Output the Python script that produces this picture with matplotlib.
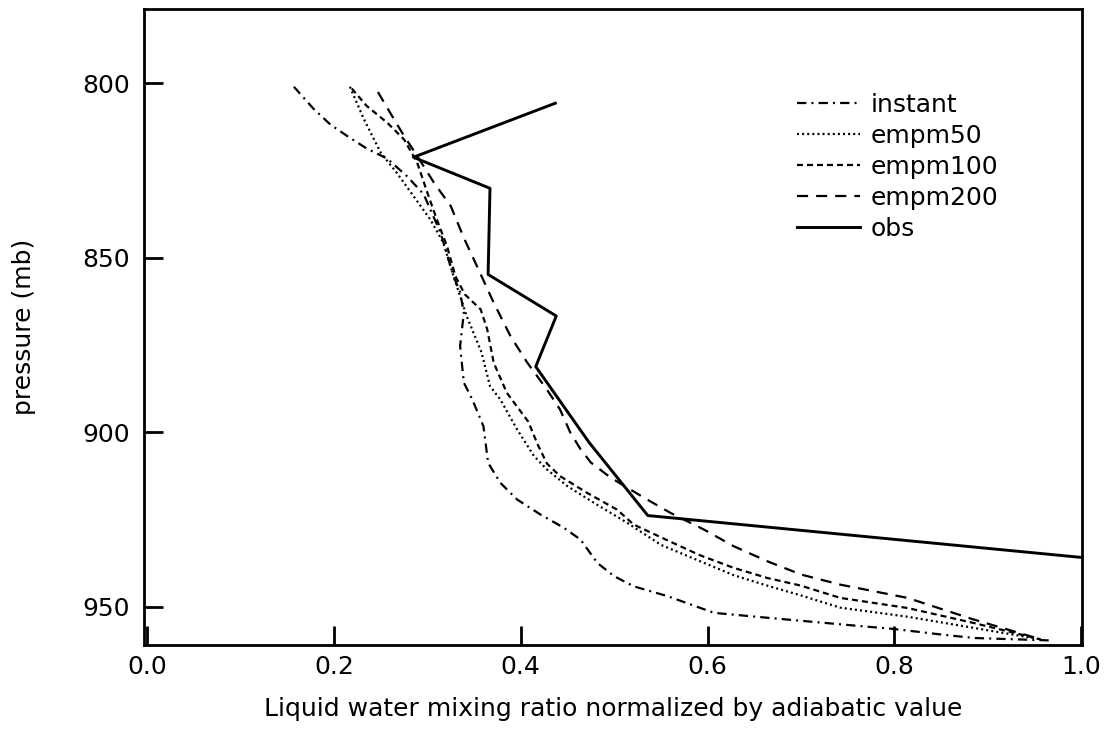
import matplotlib
matplotlib.use("Agg")
import matplotlib.pyplot as plt

plt.rcParams["font.family"] = ["DejaVu Sans"]

instant_v = [0.157, 0.178, 0.196, 0.214, 0.235, 0.257, 0.278, 0.296, 0.314, 0.328,
             0.335, 0.339, 0.335, 0.339, 0.348, 0.360, 0.365, 0.378, 0.396, 0.421,
             0.446, 0.464, 0.482, 0.500, 0.521, 0.557, 0.607, 0.664, 0.764, 0.799,
             0.850, 0.885, 0.967]
instant_p = [801.0, 807.3, 811.8, 815.1, 818.7, 821.6, 826.6, 831.8, 842.8, 855.3,
             859.9, 865.8, 875.3, 885.8, 890.6, 898.3, 908.8, 914.5, 919.3, 923.6,
             927.4, 930.8, 937.5, 941.3, 944.2, 947.0, 951.8, 953.2, 955.6, 956.4,
             958.0, 959.0, 959.7]

empm50_v = [0.217, 0.232, 0.250, 0.267, 0.285, 0.303, 0.317, 0.328, 0.342, 0.358,
            0.367, 0.378, 0.396, 0.414, 0.428, 0.450, 0.478, 0.514, 0.550, 0.592,
            0.628, 0.664, 0.700, 0.742, 0.814, 0.885, 0.957]
empm50_p = [801.0, 810.3, 819.9, 825.6, 832.3, 839.0, 845.7, 855.3, 866.7, 877.2,
            886.8, 890.6, 899.2, 906.8, 910.7, 915.5, 920.2, 926.0, 932.3, 937.0,
            941.0, 944.0, 946.8, 950.3, 952.9, 956.1, 959.4]

empm100_v = [0.219, 0.235, 0.257, 0.275, 0.289, 0.300, 0.310, 0.321, 0.330, 0.340,
             0.357, 0.364, 0.371, 0.385, 0.408, 0.418, 0.428, 0.442, 0.471, 0.503,
             0.521, 0.557, 0.592, 0.628, 0.664, 0.700, 0.742, 0.814, 0.885, 0.957]
empm100_p = [801.5, 806.5, 811.3, 816.1, 822.7, 831.4, 839.0, 846.7, 855.3, 860.5,
             864.8, 870.5, 880.1, 888.7, 897.0, 903.5, 909.0, 912.6, 917.4, 922.2,
             926.5, 931.0, 935.3, 938.9, 941.8, 944.0, 947.5, 950.4, 954.7, 959.4]

empm200_v = [0.247, 0.260, 0.275, 0.289, 0.307, 0.325, 0.339, 0.353, 0.371, 0.389,
             0.407, 0.428, 0.442, 0.453, 0.464, 0.475, 0.496, 0.532, 0.560, 0.596,
             0.628, 0.664, 0.700, 0.742, 0.814, 0.885, 0.957]
empm200_p = [802.5, 808.4, 815.1, 820.8, 828.5, 835.2, 844.3, 852.4, 862.9, 872.5,
             880.1, 887.8, 893.5, 900.1, 904.9, 908.7, 913.0, 918.8, 923.1, 927.9,
             932.7, 937.0, 940.8, 943.7, 947.5, 953.7, 959.4]

obs_v = [0.437, 0.285, 0.367, 0.365, 0.438, 0.416, 0.473, 0.536, 1.0]
obs_p = [805.7, 821.2, 830.1, 854.8, 866.7, 881.2, 902.9, 923.9, 935.9]

x_ticks = [0.0, 0.2, 0.4, 0.6, 0.8, 1.0]
y_ticks = [800, 850, 900, 950]

fig = plt.figure(figsize=(11.05, 7.49), dpi=100)
ax = fig.add_axes([0.1299, 0.1389, 0.8493, 0.8491])

lw = 1.6
ax.plot(instant_v, instant_p, color="black", lw=lw,
        linestyle=(0, (4.2, 2.3, 0.9, 2.3)), label="instant")
ax.plot(empm50_v, empm50_p, color="black", lw=lw,
        linestyle=(0, (0.9, 1.4)), label="empm50")
ax.plot(empm100_v, empm100_p, color="black", lw=lw,
        linestyle=(0, (2.7, 1.8)), label="empm100")
ax.plot(empm200_v, empm200_p, color="black", lw=lw,
        linestyle=(0, (5.0, 3.6)), label="empm200")
ax.plot(obs_v, obs_p, color="black", lw=2.1, linestyle="-", label="obs")

ax.set_xlim(-0.004, 1.001)
ax.set_ylim(961.0, 778.7)
ax.set_xticks(x_ticks)
ax.set_xticklabels([f"{t:.1f}" for t in x_ticks])
ax.set_yticks(y_ticks)

fs = 18
for s in ax.spines.values():
    s.set_linewidth(2.0)
ax.tick_params(axis="both", direction="in", width=2.0, labelsize=fs)
ax.tick_params(axis="x", length=14, pad=7)
ax.tick_params(axis="y", length=14, pad=10)

ax.set_xlabel("Liquid water mixing ratio normalized by adiabatic value",
              fontsize=fs, labelpad=13)
ax.set_ylabel("pressure (mb)", fontsize=fs, labelpad=33)

ax.legend(loc="upper left", bbox_to_anchor=(0.696, 0.868), frameon=False,
          fontsize=fs, handlelength=2.55, handletextpad=0.4,
          labelspacing=0.28, borderpad=0, borderaxespad=0)

fig.savefig("out.png", dpi=100)
